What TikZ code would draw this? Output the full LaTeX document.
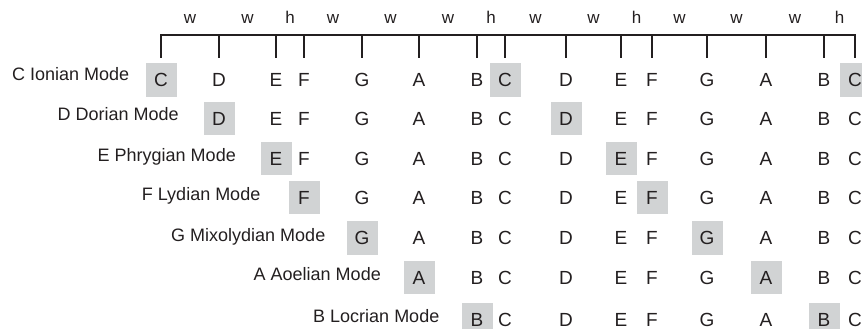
\documentclass[tikz,border=0pt]{standalone}
\usepackage{fontspec}
\setmainfont{Liberation Sans}
\usetikzlibrary{calc}
\definecolor{ink}{HTML}{231F20}
\definecolor{boxgray}{HTML}{D1D3D4}
\begin{document}
\begin{tikzpicture}[x=1pt,y=-1pt,
  note/.style={inner sep=0pt, minimum width=31pt, minimum height=33.3pt, text height=13.5pt, text depth=0pt, font=\fontsize{19}{19}\selectfont, text=ink},
  tonic/.style={note, fill=boxgray},
  modelabel/.style={anchor=base east, inner sep=0pt, font=\fontsize{18}{18}\selectfont, text=ink},
  steplabel/.style={anchor=base, inner sep=0pt, font=\fontsize{17}{17}\selectfont, text=ink},
  rule/.style={draw=ink, line width=1.8pt}
]
\useasboundingbox (0,0) rectangle (862,329);
\def\ticklist{161/C,219/D,276/E,304/F,362/G,419/A,477/B,505/C,566/D,621/E,652/F,707/G,766/A,824/B,855/C}
% tick coordinates
\foreach \x/\L [count=\i from 0] in \ticklist {
  \coordinate (t\i) at (\x,35.3);
  \coordinate (b\i) at (\x,58);
}
\draw[rule] (b0) -- (t0) -- (t14) -- (b14);
\foreach \i in {1,...,13} \draw[rule] (t\i) -- (b\i);
% step labels
\foreach \s [count=\i from 0] in {w,w,h,w,w,w,h,w,w,h,w,w,w,h} {
  \pgfmathtruncatemacro\j{\i+1}
  \node[steplabel] (s\i) at ($(t\i)!0.5!(t\j)+(0,-11.8)$) {\s};
}
% mode labels
\foreach \txt/\xx/\yy [count=\r from 0] in {C Ionian Mode/129.3/81, D Dorian Mode/178.8/121, E Phrygian Mode/236/161, F Lydian Mode/260.5/200, G Mixolydian Mode/325.5/241, A Aoelian Mode/381/280.7, B Locrian Mode/439.5/322.7} {
  \node[modelabel] (lab\r) at (\xx,\yy) {\txt};
}
% notes
\foreach \r/\y in {0/80,1/118.7,2/158.5,3/197.8,4/238,5/277.8,6/319.5} {
  \foreach \x/\L [count=\i from 0] in \ticklist {
    \ifnum\i<\r\relax\else
      \pgfmathtruncatemacro\m{mod(\i-\r,7)}
      \ifnum\m=0
        \node[tonic] (n\r-\i) at (\x,\y) {\L};
      \else
        \node[note] (n\r-\i) at (\x,\y) {\L};
      \fi
    \fi
  }
}
\end{tikzpicture}
\end{document}
